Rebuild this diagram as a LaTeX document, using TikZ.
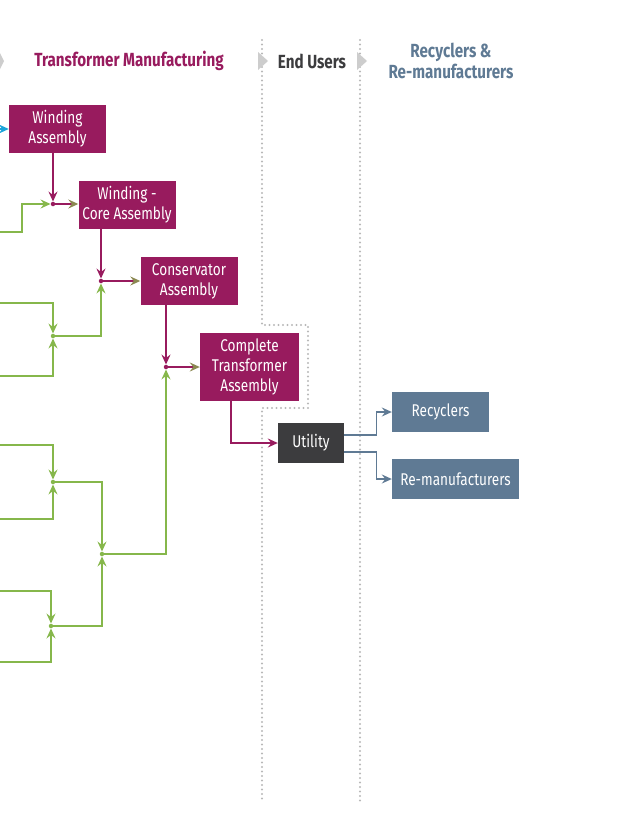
\documentclass[tikz,border=0pt]{standalone}
\usepackage{fontspec}
\setmainfont{Fira Sans}[FakeStretch=0.8]
\usetikzlibrary{arrows.meta}

\definecolor{mfg}{HTML}{981B5E}
\definecolor{leaf}{HTML}{86B74B}
\definecolor{slate}{HTML}{5F7A94}
\definecolor{util}{HTML}{3C3C3E}
\definecolor{feed}{HTML}{1AA3D9}
\definecolor{rule}{HTML}{B8B8B8}

\tikzset{
	stage/.style={inner sep=0pt, text=white, align=center, font=\fontsize{17}{20}\selectfont},
	mbox/.style={stage, fill=mfg, minimum width=97pt, minimum height=48pt},
	ebox/.style={stage, fill=slate, minimum height=40pt},
	head/.style={align=center, font=\bfseries\fontsize{19}{21}\selectfont},
	dot/.style={circle, inner sep=0pt, minimum size=4.5pt},
	tip/.style={-{Stealth[length=10pt, width=9pt, inset=3.5pt]}},
	gline/.style={leaf, line width=1.3pt, tip},
	mline/.style={mfg, line width=1.3pt, tip},
	sline/.style={slate, line width=1.3pt, tip},
	column/.style={rule, line width=2.2pt, line cap=round, dash pattern=on 0pt off 4.5pt},
}

\begin{document}
\begin{tikzpicture}[x=1pt, y=-1pt]
	\useasboundingbox (0,0) rectangle (639,835);
	\begin{scope}
	% columns
	\draw[column] (262,40) -- (262,325) -- (308,325) -- (308,408) -- (262,408) -- (262,803);
	\draw[column] (360,40) -- (360,803);
	\fill[rule!70] (0,53) -- (4,61) -- (0,69) -- cycle;
	\fill[rule!70] (258,52) -- (268,61) -- (258,70) -- cycle;
	\fill[rule!70] (357,52) -- (367,61) -- (357,70) -- cycle;
	\node[head, text=mfg] (h1) at (129,61) {Transformer Manufacturing};
	\node[head, text=util] (h2) at (312,61) {End Users};
	\node[head, text=slate] (h3) at (451,61) {Recyclers \&\\Re-manufacturers};

	% boxes
	\node[mbox] (wa) at (57.5,129) {Winding\\Assembly};
	\node[mbox] (wca) at (127,205) {Winding -\\Core Assembly};
	\node[mbox] (cons) at (189,281) {Conservator\\Assembly};
	\node[mbox, minimum height=68pt, minimum width=99pt] (cta) at (249.5,367) {Complete\\Transformer\\Assembly};
	\node[stage, fill=util, minimum width=66pt, minimum height=40pt] (ut) at (311,443) {Utility};
	\node[ebox, minimum width=97pt] (rec) at (440.5,412) {Recyclers};
	\node[ebox, minimum width=127pt] (rem) at (455.5,479) {Re-manufacturers};

	% junctions
	\node[dot, fill=mfg] (j1) at (53,204) {};
	\node[dot, fill=mfg] (j2) at (101,281) {};
	\node[dot, fill=mfg] (j3) at (166,367) {};
	\node[dot, fill=leaf] (j4) at (53,336) {};
	\node[dot, fill=leaf] (j5) at (53,482) {};
	\node[dot, fill=leaf] (j6) at (102,554) {};
	\node[dot, fill=leaf] (j7) at (51,626) {};
	\coordinate (f1) at (0,129);
	\coordinate (g1) at (0,232);
	\coordinate (g2) at (0,303);
	\coordinate (g3) at (0,376);
	\coordinate (g4) at (0,445);
	\coordinate (g5) at (0,519);
	\coordinate (g6) at (0,591);
	\coordinate (g7) at (0,662);

	% connectors
	\draw[feed, line width=1.3pt, tip] (f1) -- (wa.west);
	\draw[gline] (g1) -- ++(22,0) |- (j1);
	\draw[gline] (g2) -| (j4);
	\draw[gline] (g3) -| (j4);
	\draw[gline] (g4) -| (j5);
	\draw[gline] (g5) -| (j5);
	\draw[gline] (g6) -| (j7);
	\draw[gline] (g7) -| (j7);
	\draw[gline] (j4) -| (j2);
	\draw[gline] (j5) -| (j6);
	\draw[gline] (j7) -| (j6);
	\draw[gline] (j6) -| (j3);
	\draw[mline] (wa.south -| j1) -- (j1);
	\draw[mline] (wca.south -| j2) -- (j2);
	\draw[mline] (cons.south -| j3) -- (j3);
	\draw[mline, -{Stealth[length=10pt, width=9pt, inset=3.5pt, color=leaf!70!mfg]}] (j1) -- (wca.west |- j1);
	\draw[mline, -{Stealth[length=10pt, width=9pt, inset=3.5pt, color=leaf!70!mfg]}] (j2) -- (cons.west |- j2);
	\draw[mline, -{Stealth[length=10pt, width=9pt, inset=3.5pt, color=leaf!70!mfg]}] (j3) -- (cta.west |- j3);
	\draw[mline] ([xshift=-18.5pt]cta.south) |- (ut.west);
	\draw[sline] ([yshift=8pt]ut.east) -- ++(32,0) |- (rec.west);
	\draw[sline] ([yshift=-9pt]ut.east) -- ++(32,0) |- (rem.west);
	\end{scope}
\end{tikzpicture}
\end{document}
